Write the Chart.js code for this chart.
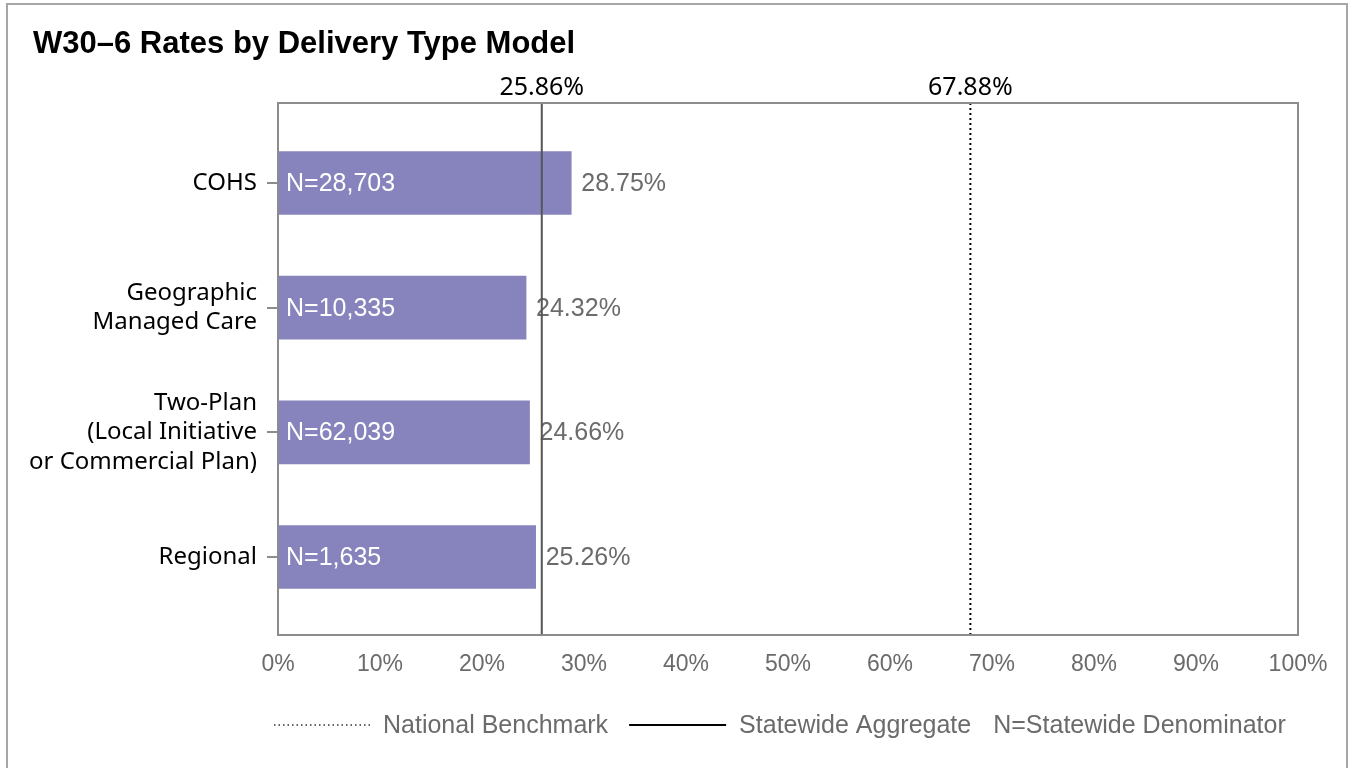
<!DOCTYPE html>
<html>
<head>
<meta charset="utf-8">
<script src="https://cdn.jsdelivr.net/npm/chart.js@4"></script>
<style>
  html, body { margin: 0; padding: 0; background: #fff; }
  #wrap { width: 1351px; height: 768px; }
</style>
</head>
<body>
<div id="wrap"><canvas id="c" width="1351" height="768"></canvas></div>
<script>
// ---- data ----
const categories = [
  'COHS',
  ['Geographic', 'Managed Care'],
  ['Two-Plan', '(Local Initiative', 'or Commercial Plan)'],
  'Regional'
];
const rates = [28.75, 24.32, 24.66, 25.26];
const denominators = ['N=28,703', 'N=10,335', 'N=62,039', 'N=1,635'];
const statewideAggregate = 25.86;
const nationalBenchmark = 67.88;
const xTicks = [0, 10, 20, 30, 40, 50, 60, 70, 80, 90, 100];
const titleText = 'W30\u20136 Rates by Delivery Type Model';
const legendItems = ['National Benchmark', 'Statewide Aggregate', 'N=Statewide Denominator'];

const ARIAL = '"Liberation Sans", Arial, sans-serif';
const SEGOE = '"Noto Sans", "Open Sans", sans-serif';

const decorPlugin = {
  id: 'decor',
  beforeDraw(chart) {
    const ctx = chart.ctx;
    ctx.save();
    ctx.fillStyle = '#fff';
    ctx.fillRect(0, 0, chart.width, chart.height);
    ctx.strokeStyle = '#a6a6a6';
    ctx.lineWidth = 2;
    ctx.strokeRect(7, 4, 1340, 800);
    // title
    ctx.fillStyle = '#000';
    ctx.font = 'bold 31px ' + ARIAL;
    ctx.textAlign = 'left';
    ctx.textBaseline = 'alphabetic';
    ctx.fillText(titleText, 33, 53);
    ctx.restore();
  },
  afterDatasetsDraw(chart) {
    const ctx = chart.ctx;
    const a = chart.chartArea;
    const xs = chart.scales.x;
    const meta = chart.getDatasetMeta(0);
    ctx.save();
    // labels on bars
    ctx.textBaseline = 'middle';
    meta.data.forEach((bar, i) => {
      ctx.font = '25px ' + ARIAL;
      ctx.fillStyle = '#ffffff';
      ctx.textAlign = 'left';
      ctx.fillText(denominators[i], bar.base + 8, bar.y + 1);
      ctx.fillStyle = '#6b6b6b';
      ctx.fillText(rates[i].toFixed(2) + '%', bar.x + 10, bar.y + 1);
    });
    // reference lines
    const sx = xs.getPixelForValue(statewideAggregate);
    ctx.strokeStyle = '#555';
    ctx.lineWidth = 2;
    ctx.beginPath();
    ctx.moveTo(sx, a.top);
    ctx.lineTo(sx, a.bottom);
    ctx.stroke();
    const nx = xs.getPixelForValue(nationalBenchmark);
    ctx.strokeStyle = '#000';
    ctx.setLineDash([2, 3]);
    ctx.beginPath();
    ctx.moveTo(nx, a.top);
    ctx.lineTo(nx, a.bottom);
    ctx.stroke();
    ctx.setLineDash([]);
    // plot frame
    ctx.strokeStyle = '#8c8c8c';
    ctx.lineWidth = 2;
    ctx.strokeRect(a.left, a.top, a.right - a.left, a.bottom - a.top);
    // top labels
    ctx.fillStyle = '#000';
    ctx.font = '25px ' + SEGOE;
    ctx.textAlign = 'center';
    ctx.textBaseline = 'alphabetic';
    ctx.fillText(statewideAggregate.toFixed(2) + '%', sx, 95);
    ctx.fillText(nationalBenchmark.toFixed(2) + '%', nx, 95);
    // legend
    const ly = 725;
    ctx.font = '25px ' + ARIAL;
    ctx.fillStyle = '#6b6b6b';
    ctx.textAlign = 'left';
    ctx.textBaseline = 'middle';
    let x = 274;
    ctx.strokeStyle = '#333';
    ctx.lineWidth = 1.5;
    ctx.setLineDash([1.5, 3]);
    ctx.beginPath(); ctx.moveTo(x, ly); ctx.lineTo(x + 96, ly); ctx.stroke();
    ctx.setLineDash([]);
    x += 109;
    ctx.fillText(legendItems[0], x, ly + 1);
    x += ctx.measureText(legendItems[0]).width + 21;
    ctx.strokeStyle = '#000';
    ctx.lineWidth = 2;
    ctx.beginPath(); ctx.moveTo(x, ly); ctx.lineTo(x + 97, ly); ctx.stroke();
    x += 110;
    ctx.fillText(legendItems[1], x, ly + 1);
    x += ctx.measureText(legendItems[1]).width + 22;
    ctx.fillText(legendItems[2], x, ly + 1);
    ctx.restore();
  }
};

new Chart(document.getElementById('c'), {
  type: 'bar',
  data: {
    datasets: [{
      data: rates.map((v, i) => ({ x: v, y: i })),
      backgroundColor: '#8784bd',
      borderWidth: 0,
      barThickness: 63
    }]
  },
  options: {
    indexAxis: 'y',
    responsive: false,
    animation: false,
    devicePixelRatio: 1,
    layout: { padding: { left: 0, top: 103, right: 53, bottom: 93 } },
    plugins: {
      legend: { display: false },
      title: { display: false },
      tooltip: { enabled: false }
    },
    scales: {
      x: {
        type: 'linear',
        min: 0, max: 100,
        afterBuildTicks(s) { s.ticks = xTicks.map(v => ({ value: v })); },
        afterFit(s) { s.height = 40; },
        grid: { display: false, drawTicks: false },
        border: { display: false },
        ticks: {
          callback: v => v + '%',
          color: '#6b6b6b',
          font: { family: ARIAL, size: 23 },
          padding: 16,
          maxRotation: 0
        }
      },
      y: {
        type: 'linear',
        reverse: true,
        offset: false,
        min: -0.642, max: 3.626,
        afterBuildTicks(s) { s.ticks = categories.map((c, i) => ({ value: i })); },
        afterFit(s) { s.width = 278; },
        grid: {
          offset: false,
          drawOnChartArea: false,
          drawTicks: true,
          tickLength: 11,
          color: '#8c8c8c',
          lineWidth: 2
        },
        border: { display: false },
        ticks: {
          callback: v => categories[v],
          color: '#000',
          font: { family: SEGOE, size: 24, lineHeight: 1.23 },
          padding: 10,
          autoSkip: false
        }
      }
    }
  },
  plugins: [decorPlugin]
});
</script>
</body>
</html>
